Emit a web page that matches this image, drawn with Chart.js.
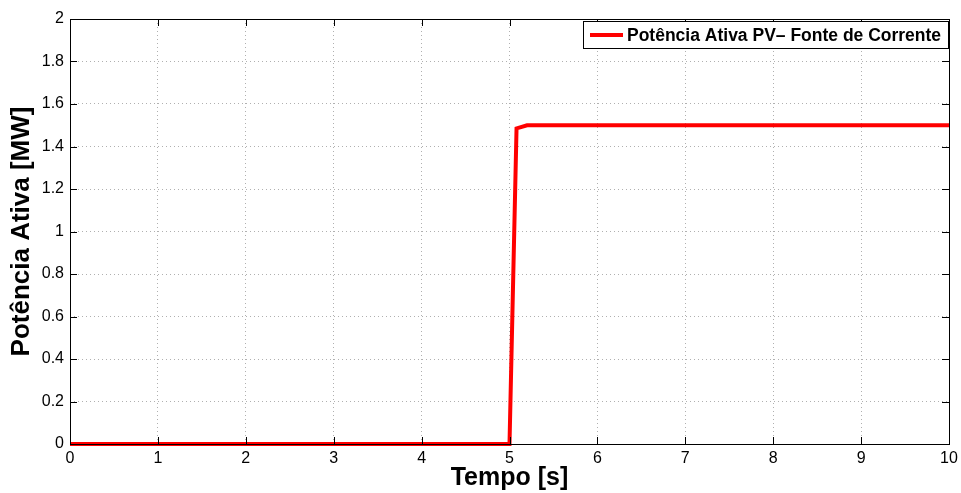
<!DOCTYPE html>
<html>
<head>
<meta charset="utf-8">
<script src="https://cdn.jsdelivr.net/npm/chart.js@4/dist/chart.umd.min.js"></script>
<style>
  html, body { margin: 0; padding: 0; background: #fff; }
  #wrap { width: 961px; height: 493px; }
</style>
</head>
<body>
<div id="wrap"><canvas id="c" width="961" height="493"></canvas></div>
<script>
// Active power of the PV source (current-source model)
const tempo = [0, 5.0, 5.08, 5.2, 10];
const potencia = [0, 0, 1.485, 1.5, 1.5];
const xTicks = [0, 1, 2, 3, 4, 5, 6, 7, 8, 9, 10];
const yTicks = [0, 0.2, 0.4, 0.6, 0.8, 1, 1.2, 1.4, 1.6, 1.8, 2];
const serieLabel = 'Potência Ativa PV– Fonte de Corrente';

const FONT = '"Liberation Sans", Arial, Helvetica, sans-serif';

// Box around the plot, inward ticks on all four sides, and the legend box
const boxPlugin = {
  id: 'boxPlugin',
  afterDatasetsDraw(chart) {
    const { ctx, chartArea: a, scales } = chart;
    ctx.save();
    ctx.strokeStyle = '#000';
    ctx.lineWidth = 1;
    const L = 7;
    ctx.beginPath();
    xTicks.forEach(v => {
      const x = Math.round(scales.x.getPixelForValue(v)) + 0.5;
      ctx.moveTo(x, a.bottom); ctx.lineTo(x, a.bottom - L);
      ctx.moveTo(x, a.top); ctx.lineTo(x, a.top + L);
    });
    yTicks.forEach(v => {
      const y = Math.round(scales.y.getPixelForValue(v)) + 0.5;
      ctx.moveTo(a.left, y); ctx.lineTo(a.left + L, y);
      ctx.moveTo(a.right, y); ctx.lineTo(a.right - L, y);
    });
    ctx.stroke();
    ctx.strokeRect(Math.round(a.left) + 0.5, Math.round(a.top) + 0.5,
                   Math.round(a.right - a.left), Math.round(a.bottom - a.top));

    // legend
    const lx = 583.5, ly = 21.5, lw = 365, lh = 27;
    ctx.fillStyle = '#fff';
    ctx.fillRect(lx, ly, lw, lh);
    ctx.strokeStyle = '#000';
    ctx.strokeRect(lx, ly, lw, lh);
    ctx.strokeStyle = '#ff0000';
    ctx.lineWidth = 4;
    ctx.beginPath();
    ctx.moveTo(590, ly + lh / 2); ctx.lineTo(623, ly + lh / 2);
    ctx.stroke();
    ctx.fillStyle = '#000';
    ctx.font = 'bold 17.5px ' + FONT;
    ctx.textBaseline = 'middle';
    ctx.textAlign = 'left';
    ctx.fillText(chart.data.datasets[0].label, 627, ly + lh / 2 + 1);
    ctx.restore();
  }
};

new Chart(document.getElementById('c'), {
  type: 'line',
  data: {
    datasets: [{
      label: serieLabel,
      data: tempo.map((t, i) => ({ x: t, y: potencia[i] })),
      borderColor: '#ff0000',
      borderWidth: 4,
      pointRadius: 0,
      tension: 0,
      borderJoinStyle: 'miter',
      clip: 4
    }]
  },
  options: {
    responsive: false,
    animation: false,
    layout: { padding: { top: 19, right: 12, left: 0, bottom: 0 } },
    plugins: { legend: { display: false }, tooltip: { enabled: false } },
    scales: {
      x: {
        type: 'linear', min: 0, max: 10,
        afterBuildTicks: s => { s.ticks = xTicks.map(v => ({ value: v })); },
        afterFit: s => { s.height = 49; s.paddingLeft = 0; s.paddingRight = 0; },
        ticks: { color: '#000', font: { family: FONT, size: 16 }, padding: 5, maxRotation: 0 },
        grid: { color: '#b0b0b0', lineWidth: 1, drawTicks: false },
        border: { display: false, dash: [1, 3] },
        title: { display: true, text: 'Tempo [s]', color: '#000',
                 font: { family: FONT, size: 25, weight: 'bold' }, padding: { top: 0, bottom: 0 } }
      },
      y: {
        type: 'linear', min: 0, max: 2,
        afterBuildTicks: s => { s.ticks = yTicks.map(v => ({ value: v })); },
        afterFit: s => { s.width = 70; s.paddingTop = 0; s.paddingBottom = 0; },
        ticks: { color: '#000', font: { family: FONT, size: 16 }, padding: 6,
                 callback: v => String(Math.round(v * 10) / 10) },
        grid: { color: '#b0b0b0', lineWidth: 1, drawTicks: false },
        border: { display: false, dash: [1, 3] },
        title: { display: true, text: 'Potência Ativa [MW]', color: '#000',
                 font: { family: FONT, size: 26, weight: 'bold' }, padding: { top: 6, bottom: 0 } }
      }
    }
  },
  plugins: [boxPlugin]
});
</script>
</body>
</html>
